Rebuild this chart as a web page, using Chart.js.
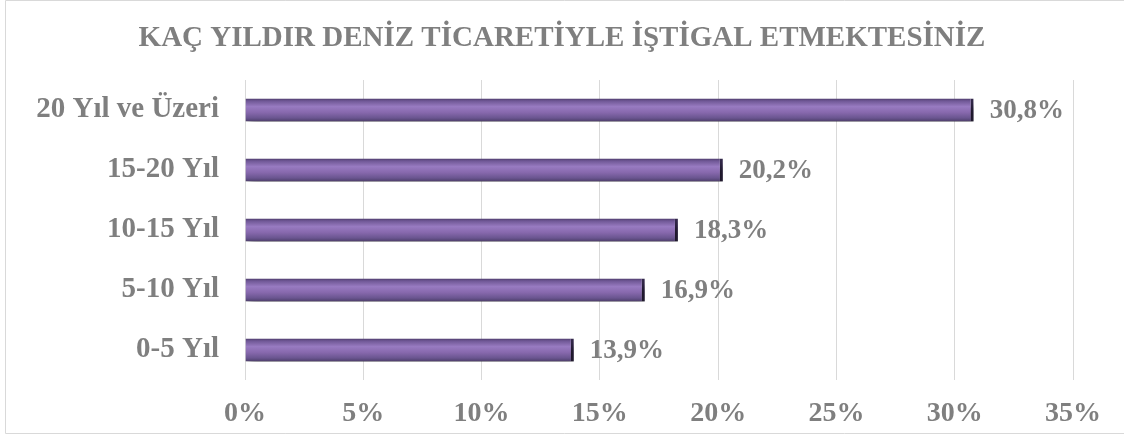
<!DOCTYPE html>
<html lang="tr">
<head>
  <meta charset="UTF-8" />
  <title>Kaç Yıldır Deniz Ticaretiyle İştigal Etmektesiniz</title>
  <script src="https://cdn.jsdelivr.net/npm/chart.js"></script>
  <style>
    body {
      margin: 0;
      background: #ffffff;
    }
    .wrap {
      width: 1124px;
      height: 436px;
      position: relative;
    }
  </style>
</head>
<body>
  <div class="wrap">
    <canvas id="yearsChart" width="1124" height="436"></canvas>
  </div>

  <script>
    const categories = ['20 Yıl ve Üzeri', '15-20 Yıl', '10-15 Yıl', '5-10 Yıl', '0-5 Yıl'];
    const shares = [30.8, 20.2, 18.3, 16.9, 13.9];
    const xTicks = [0, 5, 10, 15, 20, 25, 30, 35];
    const chartTitle = 'KAÇ YILDIR DENİZ TİCARETİYLE İŞTİGAL ETMEKTESİNİZ';

    const textGray = '#7f7f7f';
    const serif = "'Liberation Serif', 'Times New Roman', serif";

    // border + title (title centred on the whole picture, not the plot)
    const frame = {
      id: 'frame',
      beforeDraw(chart) {
        const c = chart.ctx;
        c.save();
        c.strokeStyle = '#d9d9d9';
        c.lineWidth = 1;
        c.beginPath();
        c.moveTo(5.5, 433.5);
        c.lineTo(5.5, 0.5);
        c.lineTo(1124, 0.5);
        c.moveTo(5.5, 433.5);
        c.lineTo(1124, 433.5);
        c.stroke();
        c.font = 'bold 29px ' + serif;
        c.fillStyle = textGray;
        c.textAlign = 'center';
        c.textBaseline = 'middle';
        c.fillText(chartTitle, 562, 39);
        c.restore();
      }
    };

    // shading + drop shadow so the bars look like the 3d cylinders
    const barLook = {
      id: 'barLook',
      beforeDatasetsDraw(chart) {
        const c = chart.ctx;
        chart.getDatasetMeta(0).data.forEach(bar => {
          const top = bar.y - bar.height / 2;
          const g = c.createLinearGradient(0, top, 0, top + bar.height);
          g.addColorStop(0, '#4e3d6c');
          g.addColorStop(0.1, '#6f5795');
          g.addColorStop(0.35, '#987bc1');
          g.addColorStop(0.6, '#8869ae');
          g.addColorStop(0.85, '#6a5590');
          g.addColorStop(1, '#4d3e69');
          bar.options = Object.assign({}, bar.options, { backgroundColor: g });
        });
        c.save();
        c.shadowColor = 'rgba(0, 0, 0, 0.6)';
        c.shadowBlur = 7;
        c.shadowOffsetX = 3;
        c.shadowOffsetY = 7;
      },
      afterDatasetsDraw(chart) {
        chart.ctx.restore();
      }
    };

    const valueLabels = {
      id: 'valueLabels',
      afterDatasetsDraw(chart) {
        const c = chart.ctx;
        const meta = chart.getDatasetMeta(0);
        c.save();
        c.font = 'bold 27px ' + serif;
        c.fillStyle = textGray;
        c.textAlign = 'left';
        c.textBaseline = 'middle';
        meta.data.forEach((bar, i) => {
          const txt = shares[i].toFixed(1).replace('.', ',') + '%';
          c.fillText(txt, bar.x + 16, bar.y + 1);
        });
        c.restore();
      }
    };

    new Chart(document.getElementById('yearsChart'), {
      type: 'bar',
      data: {
        labels: categories,
        datasets: [{
          data: shares,
          backgroundColor: '#8064a2',
          borderColor: '#33284a',
          borderWidth: { top: 0, right: 3, bottom: 0, left: 0 },
          borderSkipped: false,
          barPercentage: 0.38,
          categoryPercentage: 1
        }]
      },
      options: {
        indexAxis: 'y',
        responsive: false,
        animation: false,
        layout: { padding: { left: 0, right: 51, top: 80, bottom: 0 } },
        plugins: {
          legend: { display: false },
          tooltip: { enabled: false },
          title: { display: false }
        },
        scales: {
          x: {
            min: 0,
            max: 35,
            afterBuildTicks: s => { s.ticks = xTicks.map(v => ({ value: v })); },
            afterFit: s => { s.height = 56; },
            grid: { color: '#d9d9d9', drawTicks: false },
            border: { display: false },
            ticks: {
              color: textGray,
              padding: 17,
              font: { family: serif, size: 28, weight: 'bold' },
              callback: v => v + '%'
            }
          },
          y: {
            afterFit: s => { s.width = 245; },
            grid: { display: false, drawTicks: false },
            border: { display: false },
            ticks: {
              color: textGray,
              padding: 26,
              font: { family: serif, size: 29, weight: 'bold' }
            }
          }
        }
      },
      plugins: [frame, barLook, valueLabels]
    });
  </script>
</body>
</html>
